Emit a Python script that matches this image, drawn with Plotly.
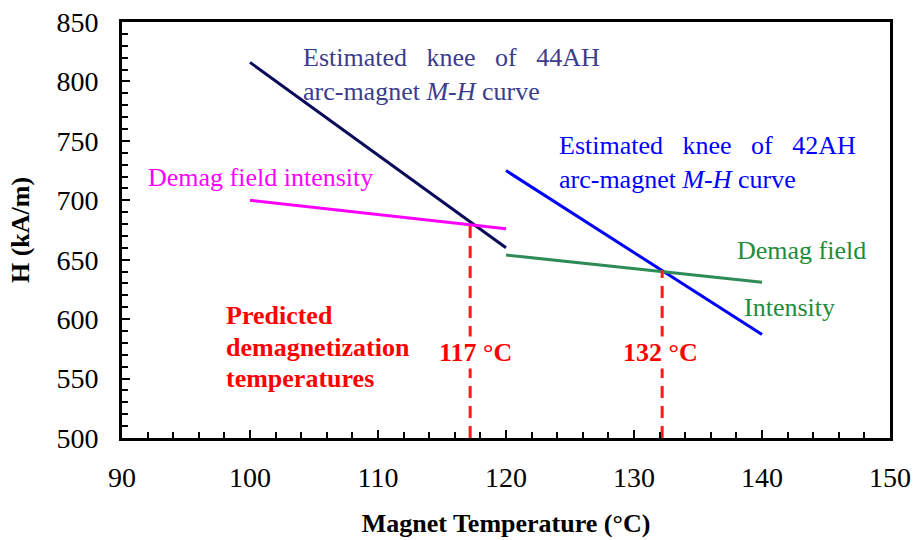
import plotly.graph_objects as go

# Data
knee44_x = [100, 120]
knee44_y = [816, 660]
demag1_x = [100, 120]
demag1_y = [700, 676]
knee42_x = [120, 140]
knee42_y = [725, 587]
demag2_x = [120, 140]
demag2_y = [654, 631]
pred_temps = [117.2, 132.2]
pred_H = [680, 641]
pred_labels = ["117 °C", "132 °C"]
H_min = 500

FONT = "Liberation Serif, Times New Roman, serif"

fig = go.Figure()
fig.add_trace(go.Scatter(x=knee44_x, y=knee44_y, mode="lines",
                         line=dict(color="#0b0b5c", width=3), showlegend=False))
fig.add_trace(go.Scatter(x=demag1_x, y=demag1_y, mode="lines",
                         line=dict(color="#ff00ff", width=3), showlegend=False))
fig.add_trace(go.Scatter(x=knee42_x, y=knee42_y, mode="lines",
                         line=dict(color="#0000ff", width=3), showlegend=False))
fig.add_trace(go.Scatter(x=demag2_x, y=demag2_y, mode="lines",
                         line=dict(color="#2e8b57", width=3), showlegend=False))
for t, h in zip(pred_temps, pred_H):
    fig.add_trace(go.Scatter(x=[t, t], y=[H_min, h], mode="lines",
                             line=dict(color="#ff1a1a", width=3, dash="12px,8px"),
                             showlegend=False))

AS = 26
SP = "&nbsp;&nbsp;&nbsp;"
ann = []
ann.append(dict(x=103.95, y=806, xref="x", yref="y", xanchor="left", yanchor="middle",
                align="left", showarrow=False,
                text="Estimated" + SP + "knee" + SP + "of" + SP + "44AH<br>arc-magnet <i>M-H</i> curve",
                font=dict(family=FONT, size=AS, color="#3c3c8c")))
ann.append(dict(x=123.95, y=731.5, xref="x", yref="y", xanchor="left", yanchor="middle",
                align="left", showarrow=False,
                text="Estimated" + SP + "knee" + SP + "of" + SP + "42AH<br>arc-magnet <i>M-H</i> curve",
                font=dict(family=FONT, size=AS, color="#0000ff")))
ann.append(dict(x=91.9, y=719.5, xref="x", yref="y", xanchor="left", yanchor="middle",
                showarrow=False, text="Demag field intensity",
                font=dict(family=FONT, size=AS, color="#ff00ff")))
ann.append(dict(x=137.9, y=657.5, xref="x", yref="y", xanchor="left", yanchor="middle",
                showarrow=False, text="Demag field",
                font=dict(family=FONT, size=AS, color="#1e8c3a")))
ann.append(dict(x=138.45, y=610, xref="x", yref="y", xanchor="left", yanchor="middle",
                showarrow=False, text="Intensity",
                font=dict(family=FONT, size=AS, color="#1e8c3a")))
pred_lines = ["Predicted", "demagnetization", "temperatures"]
for i, s in enumerate(pred_lines):
    ann.append(dict(x=97.97, y=603 - i * 26.5, xref="x", yref="y", xanchor="left",
                    yanchor="middle", showarrow=False, text="<b>" + s + "</b>",
                    font=dict(family=FONT, size=AS, color="#ff0000")))
label_dx = [0.45, -0.15]
for t, lab, dx in zip(pred_temps, pred_labels, label_dx):
    ann.append(dict(x=t + dx, y=572, xref="x", yref="y", xanchor="center", yanchor="middle",
                    showarrow=False, text="<b>" + lab + "</b>", bgcolor="white",
                    font=dict(family=FONT, size=AS, color="#ff0000")))

fig.update_layout(
    width=915, height=540,
    margin=dict(l=122, r=25, t=22, b=102),
    paper_bgcolor="white", plot_bgcolor="white",
    font=dict(family=FONT, size=26, color="black"),
    annotations=ann,
    xaxis=dict(range=[90, 150], dtick=10, tick0=90, showgrid=False, zeroline=False,
               automargin=False,
               showline=True, linecolor="black", linewidth=3, mirror=True,
               ticks="inside", ticklen=8, tickwidth=2, tickcolor="black",
               minor=dict(dtick=2, ticks="inside", ticklen=6, tickwidth=2, tickcolor="black"),
               tickfont=dict(family=FONT, size=28, color="black"), ticklabelstandoff=12,
               title=dict(text="<b>Magnet Temperature (°C)</b>", standoff=23,
                          font=dict(family=FONT, size=26, color="black"))),
    yaxis=dict(range=[500, 850], dtick=50, tick0=500, showgrid=False, zeroline=False,
               automargin=False,
               showline=True, linecolor="black", linewidth=3, mirror=True,
               ticks="inside", ticklen=8, tickwidth=2, tickcolor="black",
               minor=dict(dtick=10, ticks="inside", ticklen=6, tickwidth=2, tickcolor="black"),
               tickfont=dict(family=FONT, size=28, color="black"), ticklabelstandoff=15,
               title=dict(text="<b>H (kA/m)</b>", standoff=20,
                          font=dict(family=FONT, size=26, color="black"))),
)

fig.write_html("out.html")
